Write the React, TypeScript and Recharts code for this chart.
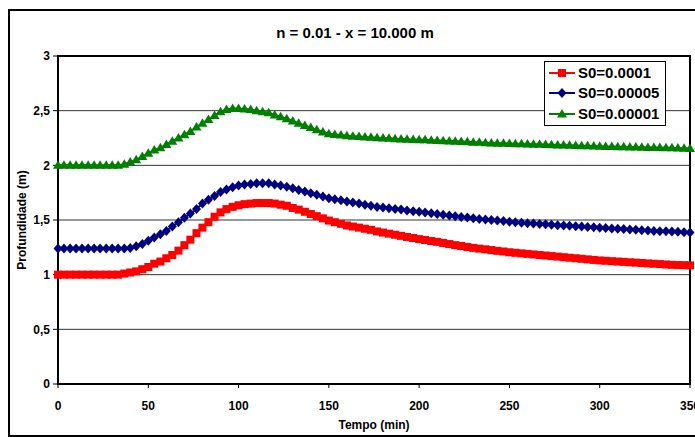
import React from 'react';
import { LineChart, Line, XAxis, YAxis, CartesianGrid, ReferenceArea } from 'recharts';

// sample times (min)
const TIME = [
  0, 3.3, 6.7, 10, 13.3, 16.7, 20, 23.3, 26.7, 30, 33.3, 36.7, 40, 43.3, 46.7, 50, 53.3, 56.7,
  60, 63.3, 66.7, 70, 73.3, 76.7, 80, 83.3, 86.7, 90, 93.3, 96.7, 100, 103.3, 106.7, 110, 113.3, 116.7,
  120, 123.3, 126.7, 130, 133.3, 136.7, 140, 143.3, 146.7, 150, 153.3, 156.7, 160, 163.3, 166.7,
  170, 173.3, 176.7, 180, 183.3, 186.7, 190, 193.3, 196.7, 200, 203.3, 206.7, 210, 213.3, 216.7,
  220, 223.3, 226.7, 230, 233.3, 236.7, 240, 243.3, 246.7, 250, 253.3, 256.7, 260, 263.3, 266.7,
  270, 273.3, 276.7, 280, 283.3, 286.7, 290, 293.3, 296.7, 300, 303.3, 306.7, 310, 313.3, 316.7,
  320, 323.3, 326.7, 330, 333.3, 336.7, 340, 343.3, 346.7, 350,
];

// Profundidade (m) for each slope
const S0_0001 = [
  1.0, 1.0, 1.0, 1.0, 1.0, 1.0, 1.0, 1.0, 1.0, 1.0, 1.0, 1.01, 1.02, 1.03, 1.05, 1.07, 1.1, 1.12,
  1.15, 1.18, 1.22, 1.27, 1.32, 1.38, 1.43, 1.48, 1.53, 1.57, 1.6, 1.62, 1.635, 1.645, 1.65, 1.655, 1.655, 1.655,
  1.65, 1.64, 1.63, 1.61, 1.595, 1.575, 1.555, 1.535, 1.515, 1.495, 1.48, 1.465, 1.45, 1.44, 1.43,
  1.42, 1.41, 1.395, 1.385, 1.375, 1.365, 1.355, 1.345, 1.335, 1.325, 1.317, 1.308, 1.3, 1.29, 1.28,
  1.27, 1.262, 1.253, 1.245, 1.238, 1.232, 1.225, 1.218, 1.212, 1.205, 1.2, 1.195, 1.19, 1.185, 1.18,
  1.175, 1.17, 1.165, 1.16, 1.155, 1.15, 1.145, 1.14, 1.135, 1.13, 1.127, 1.123, 1.12, 1.117, 1.113,
  1.11, 1.107, 1.103, 1.1, 1.097, 1.093, 1.09, 1.088, 1.087, 1.085,
];
const S0_00005 = [
  1.24, 1.24, 1.24, 1.24, 1.24, 1.24, 1.24, 1.24, 1.24, 1.24, 1.24, 1.24, 1.245, 1.26, 1.28, 1.31, 1.34, 1.37,
  1.4, 1.44, 1.48, 1.52, 1.56, 1.6, 1.65, 1.685, 1.72, 1.755, 1.78, 1.8, 1.815, 1.825, 1.83, 1.835, 1.835, 1.835,
  1.825, 1.815, 1.805, 1.79, 1.775, 1.76, 1.745, 1.73, 1.715, 1.7, 1.69, 1.68, 1.67, 1.66, 1.65,
  1.64, 1.63, 1.62, 1.615, 1.608, 1.6, 1.595, 1.588, 1.58, 1.575, 1.568, 1.562, 1.555, 1.548, 1.542,
  1.535, 1.528, 1.522, 1.515, 1.51, 1.505, 1.5, 1.495, 1.49, 1.485, 1.48, 1.475, 1.47, 1.467, 1.463,
  1.46, 1.457, 1.453, 1.45, 1.447, 1.443, 1.44, 1.437, 1.433, 1.43, 1.427, 1.423, 1.42, 1.417, 1.413,
  1.41, 1.407, 1.403, 1.4, 1.398, 1.397, 1.395, 1.392, 1.388, 1.385,
];
const S0_00001 = [
  2.0, 2.0, 2.0, 2.0, 2.0, 2.0, 2.0, 2.0, 2.0, 2.0, 2.0, 2.01, 2.03, 2.05, 2.08, 2.11, 2.14, 2.16,
  2.19, 2.22, 2.25, 2.28, 2.31, 2.35, 2.385, 2.42, 2.455, 2.49, 2.51, 2.52, 2.52, 2.515, 2.51, 2.5, 2.49, 2.48,
  2.46, 2.445, 2.425, 2.405, 2.385, 2.365, 2.345, 2.325, 2.305, 2.29, 2.283, 2.277, 2.27, 2.267, 2.263,
  2.26, 2.257, 2.253, 2.25, 2.247, 2.243, 2.24, 2.238, 2.237, 2.235, 2.233, 2.23, 2.228, 2.225, 2.223,
  2.22, 2.217, 2.215, 2.212, 2.21, 2.207, 2.205, 2.203, 2.202, 2.2, 2.198, 2.197, 2.195, 2.193, 2.192,
  2.19, 2.188, 2.187, 2.185, 2.183, 2.182, 2.18, 2.178, 2.177, 2.175, 2.173, 2.172, 2.17, 2.169, 2.168,
  2.167, 2.166, 2.164, 2.163, 2.162, 2.161, 2.16, 2.158, 2.157, 2.155,
];

const X_TICKS = [0, 50, 100, 150, 200, 250, 300, 350];
const Y_TICKS = [0, 0.5, 1, 1.5, 2, 2.5, 3];

const SERIES = [
  { key: 'a', name: 'S0=0.0001', color: '#FF0000', shape: 'square', values: S0_0001 },
  { key: 'b', name: 'S0=0.00005', color: '#000080', shape: 'diamond', values: S0_00005 },
  { key: 'c', name: 'S0=0.00001', color: '#008000', shape: 'triangle', values: S0_00001 },
];

const FONT = '"Liberation Sans", Arial, sans-serif';

const data = TIME.map((t, i) => {
  const row: Record<string, number> = { t };
  SERIES.forEach(s => { row[s.key] = s.values[i]; });
  return row;
});

const Marker = ({ cx, cy, shape, color }: { cx: number; cy: number; shape: string; color: string }) => {
  if (cx == null || cy == null) return null;
  if (shape === 'square') {
    return <rect x={cx - 4} y={cy - 4} width={8} height={8} fill={color} />;
  }
  if (shape === 'diamond') {
    return <polygon points={`${cx},${cy - 5} ${cx + 4.5},${cy} ${cx},${cy + 5} ${cx - 4.5},${cy}`} fill={color} />;
  }
  return <polygon points={`${cx},${cy - 5} ${cx + 5},${cy + 3.5} ${cx - 5},${cy + 3.5}`} fill={color} />;
};

const LegendIcon = ({ shape, color }: { shape: string; color: string }) => (
  <svg width={26} height={12} style={{ display: 'block' }}>
    <line x1={0} y1={6} x2={26} y2={6} stroke={color} strokeWidth={2} />
    <Marker cx={13} cy={6} shape={shape} color={color} />
  </svg>
);

export default function App() {
  // fixed wrapper so the frame (wider than the window, like the source) never adds scrollbars
  return (
    <div style={{ position: 'fixed', left: 0, top: 0, width: 695, height: 437, overflow: 'hidden', fontFamily: FONT, background: '#fff' }}>
      <div
        style={{
          position: 'absolute',
          left: 8,
          top: 9,
          width: 694,
          height: 428,
          border: '2px solid #000',
          boxSizing: 'border-box',
          background: '#fff',
        }}
      >
        <div
          style={{
            position: 'absolute', left: 0, top: 13, width: 690, textAlign: 'center',
            fontSize: 15, fontWeight: 'bold', color: '#000',
          }}
        >
          n = 0.01 - x = 10.000 m
        </div>

        <LineChart
          width={710}
          height={425}
          data={data}
          margin={{ top: 45, right: 30, left: 0, bottom: 0 }}
          style={{ fontFamily: FONT }}
        >
          <CartesianGrid vertical={false} stroke="#333" strokeWidth={1} />
          <XAxis
            dataKey="t"
            type="number"
            domain={[0, 350]}
            ticks={X_TICKS}
            interval={0}
            height={52}
            tickSize={4}
            tickMargin={13}
            axisLine={{ stroke: '#000', strokeWidth: 2 }}
            tickLine={{ stroke: '#000' }}
            tick={{ fill: '#000', fontSize: 12, fontWeight: 'bold' }}
            label={{ value: 'Tempo (min)', position: 'insideBottom', offset: 7, fill: '#000', fontSize: 12, fontWeight: 'bold' }}
          />
          <YAxis
            type="number"
            domain={[0, 3]}
            ticks={Y_TICKS}
            interval={0}
            width={48}
            tickSize={5}
            tickMargin={3}
            axisLine={{ stroke: '#000', strokeWidth: 2 }}
            tickLine={{ stroke: '#000' }}
            tickFormatter={(v: number) => String(v).replace('.', ',')}
            tick={{ fill: '#000', fontSize: 12, fontWeight: 'bold' }}
            label={{
              value: 'Profundidade (m)', angle: -90, position: 'insideLeft', offset: 12,
              fill: '#000', fontSize: 12, fontWeight: 'bold', style: { textAnchor: 'middle' },
            }}
          />
          <ReferenceArea x1={0} x2={350} y1={0} y2={3} fill="none" stroke="#000" strokeWidth={2} />
          {SERIES.map(s => (
            <Line
              key={s.key}
              dataKey={s.key}
              name={s.name}
              type="linear"
              stroke={s.color}
              strokeWidth={2}
              isAnimationActive={false}
              dot={(p: any) => (
                <Marker key={`${s.key}-${p.index}`} cx={p.cx} cy={p.cy} shape={s.shape} color={s.color} />
              )}
              activeDot={false}
            />
          ))}
        </LineChart>

        <div
          style={{
            position: 'absolute', left: 534, top: 50, width: 122, height: 65,
            border: '1px solid #000', boxSizing: 'border-box', background: '#fff',
            display: 'flex', flexDirection: 'column', justifyContent: 'space-around',
            padding: '1px 0',
          }}
        >
          {SERIES.map(s => (
            <div key={s.key} style={{ display: 'flex', alignItems: 'center', paddingLeft: 4 }}>
              <LegendIcon shape={s.shape} color={s.color} />
              <span style={{ marginLeft: 3, fontSize: 15, fontWeight: 'bold', color: '#000', lineHeight: '18px' }}>
                {s.name}
              </span>
            </div>
          ))}
        </div>
      </div>
    </div>
  );
}
